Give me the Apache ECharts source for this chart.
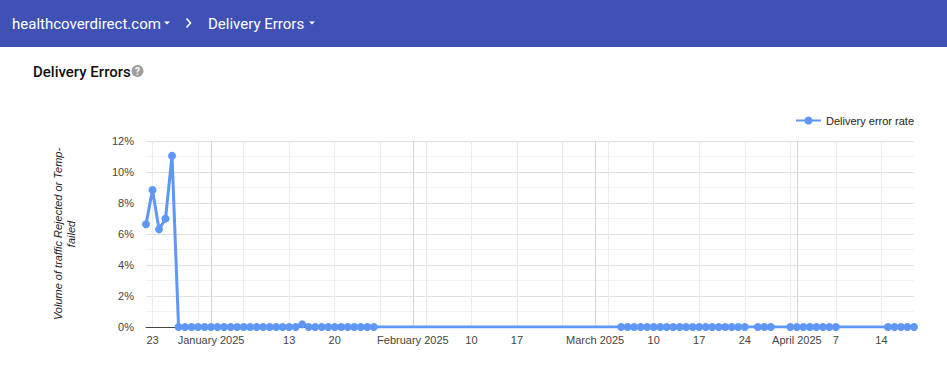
<!DOCTYPE html>
<html>
<head>
<meta charset="utf-8">
<script src="https://cdn.jsdelivr.net/npm/echarts@6/dist/echarts.min.js"></script>
<style>
html,body{margin:0;padding:0;background:#fff;}
#chart{width:947px;height:380px;}
</style>
</head>
<body>
<div id="chart"></div>
<script>
// ---- data ----
const errorDates = [
  '2024-12-22','2024-12-23','2024-12-24','2024-12-25','2024-12-26','2024-12-27','2024-12-28','2024-12-29','2024-12-30','2024-12-31',
  '2025-01-01','2025-01-02','2025-01-03','2025-01-04','2025-01-05','2025-01-06','2025-01-07','2025-01-08','2025-01-09','2025-01-10',
  '2025-01-11','2025-01-12','2025-01-13','2025-01-14','2025-01-15','2025-01-16','2025-01-17','2025-01-18','2025-01-19','2025-01-20',
  '2025-01-21','2025-01-22','2025-01-23','2025-01-24','2025-01-25','2025-01-26',
  '2025-03-05','2025-03-06','2025-03-07','2025-03-08','2025-03-09','2025-03-10','2025-03-11','2025-03-12','2025-03-13','2025-03-14',
  '2025-03-15','2025-03-16','2025-03-17','2025-03-18','2025-03-19','2025-03-20','2025-03-21','2025-03-22','2025-03-23','2025-03-24',
  '2025-03-26','2025-03-27','2025-03-28',
  '2025-03-31','2025-04-01','2025-04-02','2025-04-03','2025-04-04','2025-04-05','2025-04-06','2025-04-07',
  '2025-04-15','2025-04-16','2025-04-17','2025-04-18','2025-04-19'
];
const errorRates = [
  6.63, 8.84, 6.30, 6.99, 11.05, 0, 0, 0, 0, 0,
  0, 0, 0, 0, 0, 0, 0, 0, 0, 0,
  0, 0, 0, 0, 0.17, 0, 0, 0, 0, 0,
  0, 0, 0, 0, 0, 0,
  0, 0, 0, 0, 0, 0, 0, 0, 0, 0,
  0, 0, 0, 0, 0, 0, 0, 0, 0, 0,
  0, 0, 0,
  0, 0, 0, 0, 0, 0, 0, 0,
  0, 0, 0, 0, 0
];
const axisStart = '2024-12-22';
const axisEnd = '2025-04-19';
const tickDates = ['2024-12-23','2025-01-01','2025-01-13','2025-01-20','2025-02-01','2025-02-10','2025-02-17',
                   '2025-03-01','2025-03-10','2025-03-17','2025-03-24','2025-04-01','2025-04-07','2025-04-14'];
const tickLabels = ['23','January 2025','13','20','February 2025','10','17',
                    'March 2025','10','17','24','April 2025','7','14'];
const weekGridDates = ['2024-12-23','2024-12-30','2025-01-06','2025-01-13','2025-01-20','2025-01-27','2025-02-03',
                       '2025-02-10','2025-02-17','2025-02-24','2025-03-03','2025-03-10','2025-03-17','2025-03-24',
                       '2025-03-31','2025-04-07','2025-04-14'];
const monthGridDates = ['2025-01-01','2025-02-01','2025-03-01','2025-04-01'];
const yTicks = [0, 2, 4, 6, 8, 10, 12];
const seriesName = 'Delivery error rate';
const yAxisTitle = 'Volume of traffic Rejected or Temp-\nfailed';

function ts(s) { const p = s.split('-').map(Number); return Date.UTC(p[0], p[1] - 1, p[2]); }

const seriesData = errorDates.map((d, i) => [ts(d), errorRates[i]]);
const tickTs = tickDates.map(ts);

const chart = echarts.init(document.getElementById('chart'), null, {renderer: 'svg'});
const AX = 'Arial, "Liberation Sans", sans-serif';
const RB = 'Roboto, "Liberation Sans", sans-serif';

const option = {
  animation: false,
  backgroundColor: '#fff',
  grid: {left: 146, right: 33, top: 141, bottom: 53, containLabel: false},
  legend: {
    data: [seriesName], right: 28, top: 110, itemWidth: 25, itemHeight: 10, itemGap: 5,
    textStyle: {fontSize: 11, color: '#222', fontFamily: AX}
  },
  xAxis: {
    type: 'value', min: ts(axisStart), max: ts(axisEnd),
    axisLine: {show: true, onZero: false, lineStyle: {color: '#444', width: 1}},
    axisTick: {show: false},
    splitLine: {show: false},
    axisLabel: {
      customValues: tickTs, margin: 7, fontSize: 11, color: '#444', fontFamily: AX,
      hideOverlap: false, showMinLabel: true, showMaxLabel: true,
      formatter: function (v) { const i = tickTs.indexOf(v); return i >= 0 ? tickLabels[i] : ''; }
    }
  },
  yAxis: {
    type: 'value', min: yTicks[0], max: yTicks[yTicks.length - 1], interval: 2,
    axisLine: {show: false}, axisTick: {show: false},
    axisLabel: {formatter: '{value}%', margin: 12, fontSize: 11, color: '#444', fontFamily: AX},
    splitLine: {show: true, lineStyle: {color: '#e0e0e0', width: 1}},
    minorTick: {show: false, splitNumber: 2},
    minorSplitLine: {show: true, lineStyle: {color: '#f2f2f2', width: 1}}
  },
  series: [{
    name: seriesName, type: 'line', data: seriesData,
    symbol: 'circle', symbolSize: 8, showSymbol: true, showAllSymbol: true,
    lineStyle: {color: '#5e97f6', width: 3},
    itemStyle: {color: '#5e97f6'},
    z: 3,
    markLine: {
      silent: true, symbol: ['none', 'none'], label: {show: false}, z: 1,
      animation: false,
      data: weekGridDates.map(d => ({xAxis: ts(d), lineStyle: {color: '#ebebeb', width: 1, type: 'solid'}}))
        .concat(monthGridDates.map(d => ({xAxis: ts(d), lineStyle: {color: '#d6d6d6', width: 1, type: 'solid'}})))
    }
  }],
  graphic: [
    {type: 'rect', shape: {x: 0, y: 0, width: 947, height: 47}, style: {fill: '#3f51b5'}, silent: true},
    {type: 'text', x: 12, y: 24, style: {text: 'healthcoverdirect.com', fill: '#fff', font: '15px ' + RB, verticalAlign: 'middle'}},
    {type: 'polygon', shape: {points: [[164, 21.5], [170, 21.5], [167, 24.5]]}, style: {fill: '#fff'}},
    {type: 'polyline', shape: {points: [[186.5, 18.5], [190.5, 23], [186.5, 27.5]]}, style: {stroke: '#fff', lineWidth: 1.6, fill: null}},
    {type: 'text', x: 208, y: 24, style: {text: 'Delivery Errors', fill: '#fff', font: '15px ' + RB, verticalAlign: 'middle'}},
    {type: 'polygon', shape: {points: [[309, 21.5], [315, 21.5], [312, 24.5]]}, style: {fill: '#fff'}},
    {type: 'text', x: 33, y: 72, style: {text: 'Delivery Errors', fill: '#111', font: '500 15px ' + RB, verticalAlign: 'middle'}},
    {type: 'circle', shape: {cx: 137.5, cy: 71, r: 6}, style: {fill: '#9e9e9e'}},
    {type: 'text', x: 137.5, y: 71.5, style: {text: '?', fill: '#fff', font: 'bold 10px ' + RB, align: 'center', verticalAlign: 'middle'}},
    {type: 'text', x: 64.5, y: 234, rotation: Math.PI / 2,
      style: {text: yAxisTitle, fill: '#222', font: 'italic 11px ' + AX, align: 'center', verticalAlign: 'middle', lineHeight: 13}}
  ]
};
chart.setOption(option);
</script>
</body>
</html>
